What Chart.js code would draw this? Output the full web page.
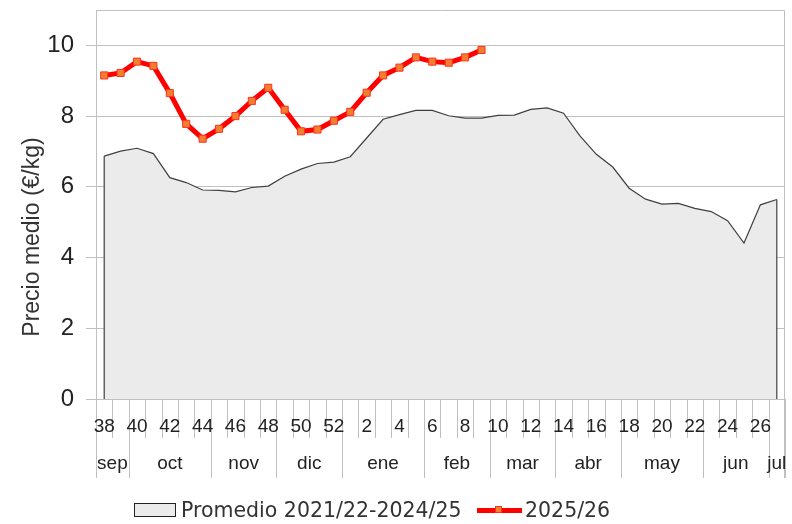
<!DOCTYPE html>
<html lang="es">
<head>
  <meta charset="UTF-8">
  <title>Precio medio</title>
  <script src="https://cdn.jsdelivr.net/npm/chart.js"></script>
  <style>
    body { margin: 0; background: #fff; }
    .wrap { position: relative; width: 792px; height: 524px; }
    .legend {
      position: absolute; left: 0; top: 497px; height: 26px; width: 792px;
      font-family: 'DejaVu Sans', sans-serif; font-size: 20.5px; color: #333;
    }
    .legend .item { position: absolute; top: 0; height: 26px; display: flex; align-items: center; }
    .box { width: 40px; height: 12px; background: #ebebeb; border: 1.5px solid #222; margin-right: 5px; }
    .redline { position: relative; width: 45px; height: 5px; background: #ff0000; margin-right: 3px; }
    .redline span {
      position: absolute; left: 18px; top: -2px; width: 7px; height: 7px;
      background: #f08030; border: 1px solid #ff3020; box-sizing: border-box;
    }
  </style>
</head>
<body>
  <div class="wrap">
    <canvas id="chart" width="792" height="524"></canvas>
    <div class="legend">
      <div class="item" style="left:134px"><div class="box"></div>Promedio 2021/22-2024/25</div>
      <div class="item" style="left:477px"><div class="redline"><span></span></div>2025/26</div>
    </div>
  </div>

  <script>
    const weeks = ['38','39','40','41','42','43','44','45','46','47','48','49','50','51','52',
      '1','2','3','4','5','6','7','8','9','10','11','12','13','14','15','16','17','18','19','20',
      '21','22','23','24','25','26','27'];

    const avgPrice = [6.87, 7.01, 7.09, 6.94, 6.26, 6.12, 5.91, 5.90, 5.86, 5.98, 6.02, 6.30, 6.50, 6.66, 6.70,
      6.85, 7.38, 7.91, 8.04, 8.16, 8.16, 8.01, 7.94, 7.94, 8.02, 8.03, 8.19, 8.23, 8.08, 7.44, 6.92,
      6.56, 5.96, 5.65, 5.51, 5.53, 5.39, 5.30, 5.04, 4.41, 5.49, 5.64];

    const currentPrice = [9.15, 9.22, 9.54, 9.42, 8.65, 7.78, 7.36, 7.64, 8.00, 8.43, 8.80, 8.18, 7.57, 7.62, 7.87,
      8.12, 8.66, 9.15, 9.37, 9.66, 9.54, 9.51, 9.66, 9.87];

    // month name + number of weeks it covers
    const months = ['sep','oct','nov','dic','ene','feb','mar','abr','may','jun','jul'];
    const monthWeeks = [2, 5, 4, 4, 5, 4, 4, 4, 5, 4, 1];

    const yTitle = 'Precio medio (€/kg)';

    const axisPlugin = {
      id: 'axisExtras',
      afterDatasetsDraw(chart) {
        const ctx = chart.ctx;
        const x = chart.scales.x;
        const y = chart.scales.y;
        const area = chart.chartArea;
        // vertical edges of the average area
        ctx.save();
        ctx.strokeStyle = '#404040';
        ctx.lineWidth = 1.2;
        const x0 = x.getPixelForValue(0), x1 = x.getPixelForValue(weeks.length - 1);
        ctx.beginPath();
        ctx.moveTo(x0, y.getPixelForValue(avgPrice[0]));
        ctx.lineTo(x0, area.bottom);
        ctx.moveTo(x1, y.getPixelForValue(avgPrice[avgPrice.length - 1]));
        ctx.lineTo(x1, area.bottom);
        ctx.stroke();
        ctx.restore();
      },
      afterDraw(chart) {
        const ctx = chart.ctx;
        const x = chart.scales.x;
        const area = chart.chartArea;
        const half = (x.getPixelForValue(1) - x.getPixelForValue(0)) / 2;
        ctx.save();
        ctx.strokeStyle = '#c0c0c0';
        ctx.lineWidth = 1;
        // top and right border
        ctx.beginPath();
        ctx.moveTo(area.left, area.top + 0.5);
        ctx.lineTo(area.right - 0.5, area.top + 0.5);
        ctx.lineTo(area.right - 0.5, area.bottom + 79);
        ctx.stroke();

        // week ticks
        ctx.beginPath();
        for (let i = 0; i <= weeks.length; i++) {
          const px = Math.round(x.getPixelForValue(i) - half) + 0.5;
          ctx.moveTo(px, area.bottom);
          ctx.lineTo(px, area.bottom + 39);
        }
        ctx.stroke();

        // month separators
        ctx.beginPath();
        let idx = 0;
        for (let m = 0; m <= months.length; m++) {
          const px = Math.round(x.getPixelForValue(idx) - half) + 0.5;
          ctx.moveTo(px, area.bottom);
          ctx.lineTo(px, area.bottom + 79);
          if (m < months.length) idx += monthWeeks[m];
        }
        ctx.stroke();

        ctx.fillStyle = '#222';
        ctx.font = '19px "Liberation Sans", Arial, sans-serif';
        ctx.textAlign = 'center';
        ctx.textBaseline = 'middle';
        weeks.forEach((w, i) => {
          if (parseInt(w) % 2 === 0) ctx.fillText(w, x.getPixelForValue(i), area.bottom + 28);
        });

        idx = 0;
        months.forEach((m, k) => {
          const a = x.getPixelForValue(idx) - half;
          const b = x.getPixelForValue(idx + monthWeeks[k] - 1) + half;
          ctx.fillText(m, (a + b) / 2, area.bottom + 65);
          idx += monthWeeks[k];
        });

        // y title
        ctx.translate(33, 237);
        ctx.rotate(-Math.PI / 2);
        ctx.font = '23px "Liberation Sans", Arial, sans-serif';
        ctx.fillStyle = '#333';
        ctx.fillText(yTitle, 0, 0);
        ctx.restore();
      }
    };

    new Chart(document.getElementById('chart'), {
      type: 'line',
      data: {
        labels: weeks,
        datasets: [
          {
            label: '2025/26',
            data: currentPrice,
            borderColor: '#ff0000',
            borderWidth: 5,
            pointStyle: 'rect',
            pointRadius: 5,
            pointBackgroundColor: '#f08030',
            pointBorderColor: '#ff3020',
            pointBorderWidth: 1,
            fill: false,
            tension: 0,
            order: 0
          },
          {
            label: 'Promedio 2021/22-2024/25',
            data: avgPrice,
            borderColor: '#404040',
            borderWidth: 1.2,
            backgroundColor: '#ebebeb',
            fill: 'origin',
            pointRadius: 0,
            tension: 0,
            order: 1
          }
        ]
      },
      options: {
        responsive: false,
        animation: false,
        layout: { padding: { left: 0, right: 7, top: 10, bottom: 125 } },
        plugins: { legend: { display: false }, tooltip: { enabled: false } },
        scales: {
          x: { display: false, offset: true },
          y: {
            min: 0,
            max: 11,
            afterFit: (s) => { s.width = 96; s.paddingTop = 0; s.paddingBottom = 0; },
            afterBuildTicks: (s) => { s.ticks = s.ticks.filter(t => t.value % 2 === 0); },
            ticks: {
              stepSize: 2,
              padding: 12,
              color: '#222',
              font: { family: '"Liberation Sans", Arial, sans-serif', size: 24 }
            },
            grid: { color: '#c0c0c0', tickLength: 10 },
            border: { color: '#c0c0c0' }
          }
        }
      },
      plugins: [axisPlugin]
    });
  </script>
</body>
</html>
